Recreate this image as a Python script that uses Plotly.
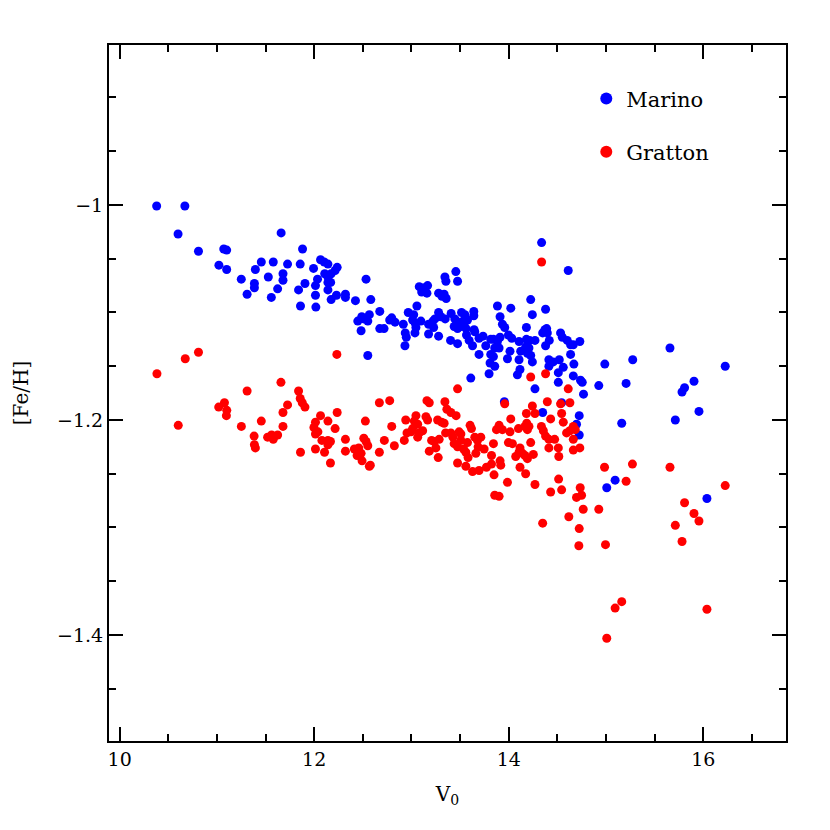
import plotly.graph_objects as go

# Marino sample (blue)
marino_v = [10.38, 10.67, 10.60, 10.81, 11.07, 11.10, 11.66, 11.88, 11.02, 11.10,
            11.25, 11.31, 11.385, 11.385, 11.395, 11.456, 11.579, 11.528, 11.559, 11.624,
            11.679, 11.679, 11.726, 11.856, 11.839, 11.859, 11.905, 11.993, 12.013, 12.034,
            12.013, 12.017, 12.065, 12.103, 12.141, 12.108, 12.141, 12.141, 12.141, 12.174,
            12.236, 12.215, 12.174, 12.169, 12.229, 12.321, 12.321, 12.533, 12.424, 12.582,
            12.448, 12.489, 12.510, 12.482, 12.567, 12.551, 12.674, 12.674, 12.718, 12.776,
            12.797, 12.831, 12.551, 12.916, 12.936, 12.947, 12.933, 12.967, 13.023, 13.012,
            13.039, 13.046, 13.036, 13.056, 13.080, 13.105, 13.131, 13.159, 13.166, 13.097,
            13.176, 13.228, 13.241, 13.221, 13.176, 13.279, 13.279, 13.313, 13.336, 13.357,
            13.344, 13.354, 13.456, 13.474, 13.279, 13.303, 13.347, 13.408, 13.446, 13.464,
            13.515, 13.549, 13.531, 13.576, 13.641, 13.641, 13.439, 13.474, 13.508, 13.562,
            13.542, 13.402, 13.474, 13.566, 13.593, 13.628, 13.644, 13.651, 13.695, 13.736,
            13.695, 13.764, 13.815, 13.843, 13.884, 13.901, 13.856, 13.815, 13.843, 13.808,
            13.856, 13.798, 13.884, 13.610, 13.911, 14.338, 14.612, 14.226, 14.021, 14.379,
            14.243, 13.935, 13.959, 14.182, 13.911, 13.997, 14.031, 14.106, 14.182, 14.215,
            14.270, 14.349, 14.372, 14.390, 14.397, 14.013, 14.123, 14.174, 14.208, 14.192,
            14.226, 13.987, 14.089, 14.116, 14.379, 14.417, 14.533, 14.551, 14.602, 14.636,
            14.664, 14.731, 14.243, 14.413, 14.458, 14.520, 14.561, 14.413, 14.636, 14.670,
            14.510, 14.664, 14.510, 14.738, 14.756, 14.769, 14.988, 15.275, 14.926, 15.207,
            14.270, 14.106, 13.955, 14.349, 14.544, 14.725, 14.697, 14.725, 15.658, 16.226,
            15.905, 15.808, 15.782, 15.956, 15.713, 15.162, 15.094, 15.008, 16.038]
marino_feh = [-1.001, -1.001, -1.027, -1.043, -1.041, -1.042, -1.026, -1.041, -1.056, -1.060,
              -1.069, -1.083, -1.073, -1.077, -1.060, -1.053, -1.053, -1.067, -1.086, -1.078,
              -1.064, -1.070, -1.055, -1.055, -1.079, -1.094, -1.073, -1.059, -1.075, -1.069,
              -1.084, -1.095, -1.051, -1.053, -1.055, -1.064, -1.067, -1.072, -1.079, -1.088,
              -1.058, -1.061, -1.064, -1.072, -1.084, -1.083, -1.086, -1.069, -1.089, -1.088,
              -1.108, -1.104, -1.106, -1.117, -1.102, -1.108, -1.099, -1.115, -1.115, -1.107,
              -1.105, -1.109, -1.140, -1.111, -1.119, -1.123, -1.131, -1.100, -1.102, -1.107,
              -1.110, -1.114, -1.119, -1.094, -1.076, -1.081, -1.077, -1.082, -1.075, -1.108,
              -1.111, -1.114, -1.106, -1.108, -1.120, -1.122, -1.082, -1.085, -1.083, -1.087,
              -1.067, -1.071, -1.062, -1.071, -1.100, -1.104, -1.106, -1.101, -1.106, -1.108,
              -1.100, -1.102, -1.108, -1.107, -1.099, -1.103, -1.113, -1.115, -1.113, -1.115,
              -1.110, -1.126, -1.129, -1.121, -1.126, -1.131, -1.116, -1.118, -1.124, -1.122,
              -1.139, -1.131, -1.125, -1.125, -1.127, -1.133, -1.133, -1.139, -1.141, -1.147,
              -1.150, -1.157, -1.094, -1.161, -1.104, -1.035, -1.061, -1.088, -1.096, -1.097,
              -1.102, -1.111, -1.114, -1.114, -1.123, -1.121, -1.124, -1.127, -1.125, -1.126,
              -1.126, -1.119, -1.116, -1.115, -1.119, -1.136, -1.136, -1.132, -1.133, -1.138,
              -1.140, -1.143, -1.158, -1.153, -1.131, -1.126, -1.119, -1.123, -1.126, -1.130,
              -1.130, -1.127, -1.146, -1.144, -1.146, -1.144, -1.151, -1.150, -1.139, -1.148,
              -1.156, -1.159, -1.165, -1.163, -1.165, -1.176, -1.148, -1.144, -1.168, -1.166,
              -1.171, -1.144, -1.183, -1.193, -1.184, -1.196, -1.204, -1.214, -1.133, -1.150,
              -1.164, -1.170, -1.174, -1.192, -1.200, -1.203, -1.256, -1.263, -1.273]

# Gratton sample (red)
gratton_v = [10.383, 10.674, 10.810, 10.602, 11.310, 11.018, 11.077, 11.101, 11.097, 11.251,
             11.382, 11.385, 11.395, 11.456, 11.521, 11.562, 11.579, 11.624, 11.679, 11.679,
             11.726, 11.658, 11.839, 11.856, 11.877, 11.905, 11.859, 12.013, 11.997, 12.013,
             12.038, 12.065, 12.141, 12.079, 12.141, 12.141, 12.013, 12.106, 12.167, 12.233,
             12.236, 12.215, 12.167, 12.321, 12.321, 12.526, 12.413, 12.458, 12.441, 12.482,
             12.492, 12.510, 12.533, 12.551, 12.577, 12.567, 12.670, 12.776, 12.670, 12.721,
             12.797, 12.824, 12.926, 12.941, 12.954, 12.995, 13.046, 13.029, 13.064, 13.012,
             13.080, 13.064, 13.115, 13.166, 13.149, 13.159, 13.183, 13.207, 13.234, 13.285,
             13.251, 13.183, 13.275, 13.269, 13.310, 13.336, 13.344, 13.364, 13.405, 13.459,
             13.474, 13.351, 13.405, 13.426, 13.439, 13.490, 13.508, 13.508, 13.474, 13.536,
             13.576, 13.559, 13.582, 13.603, 13.617, 13.651, 13.679, 13.685, 13.747, 13.662,
             13.474, 13.559, 13.628, 13.695, 13.771, 13.823, 13.823, 13.843, 13.874, 13.901,
             13.849, 13.856, 13.901, 13.918, 14.226, 14.379, 14.612, 13.959, 14.243, 14.397,
             14.533, 14.629, 14.021, 14.182, 14.270, 14.544, 13.935, 14.013, 14.100, 14.167,
             14.185, 14.208, 14.192, 14.336, 14.356, 14.379, 14.413, 14.472, 14.431, 14.561,
             14.595, 14.629, 14.664, 14.664, 14.684, 13.713, 13.997, 14.038, 14.226, 14.116,
             14.106, 14.072, 14.141, 14.192, 14.253, 14.167, 14.413, 14.510, 14.515, 14.664,
             14.731, 13.911, 14.116, 14.174, 13.987, 14.270, 14.513, 14.431, 14.544, 14.735,
             14.749, 14.697, 14.766, 14.926, 14.618, 14.349, 14.725, 14.721, 14.995, 14.985,
             15.272, 15.658, 15.207, 16.226, 15.808, 15.905, 15.956, 15.713, 15.782, 15.162,
             15.094, 16.038, 15.008, 14.338]
gratton_feh = [-1.157, -1.143, -1.137, -1.205, -1.173, -1.188, -1.184, -1.191, -1.196, -1.206,
               -1.215, -1.223, -1.226, -1.201, -1.216, -1.214, -1.218, -1.214, -1.193, -1.206,
               -1.186, -1.165, -1.173, -1.180, -1.184, -1.188, -1.230, -1.202, -1.207, -1.213,
               -1.211, -1.196, -1.201, -1.219, -1.219, -1.223, -1.227, -1.230, -1.240, -1.139,
               -1.193, -1.208, -1.220, -1.218, -1.229, -1.201, -1.227, -1.226, -1.233, -1.231,
               -1.238, -1.217, -1.220, -1.224, -1.242, -1.243, -1.184, -1.182, -1.230, -1.219,
               -1.206, -1.224, -1.219, -1.200, -1.212, -1.211, -1.196, -1.201, -1.204, -1.208,
               -1.212, -1.216, -1.210, -1.200, -1.197, -1.182, -1.184, -1.219, -1.220, -1.218,
               -1.226, -1.229, -1.235, -1.200, -1.202, -1.203, -1.183, -1.190, -1.193, -1.196,
               -1.171, -1.212, -1.212, -1.216, -1.222, -1.211, -1.213, -1.219, -1.225, -1.227,
               -1.221, -1.230, -1.235, -1.205, -1.208, -1.216, -1.219, -1.225, -1.227, -1.231,
               -1.240, -1.243, -1.248, -1.247, -1.244, -1.241, -1.233, -1.222, -1.209, -1.205,
               -1.251, -1.270, -1.271, -1.242, -1.160, -1.157, -1.171, -1.185, -1.187, -1.183,
               -1.185, -1.184, -1.199, -1.194, -1.194, -1.194, -1.209, -1.211, -1.208, -1.206,
               -1.203, -1.206, -1.209, -1.206, -1.210, -1.215, -1.218, -1.218, -1.199, -1.202,
               -1.212, -1.210, -1.206, -1.218, -1.209, -1.216, -1.221, -1.222, -1.221, -1.226,
               -1.230, -1.234, -1.231, -1.236, -1.232, -1.233, -1.226, -1.226, -1.234, -1.228,
               -1.226, -1.238, -1.244, -1.250, -1.258, -1.260, -1.255, -1.267, -1.265, -1.263,
               -1.270, -1.272, -1.283, -1.283, -1.290, -1.296, -1.301, -1.317, -1.316, -1.244,
               -1.241, -1.244, -1.257, -1.261, -1.277, -1.287, -1.294, -1.298, -1.313, -1.369,
               -1.375, -1.376, -1.403, -1.053]

x_tickvals = [10, 12, 14, 16]
x_ticktext = ["10", "12", "14", "16"]
y_tickvals = [-1.0, -1.2, -1.4]
y_ticktext = ["\u22121", "\u22121.2", "\u22121.4"]

FONT = "DejaVu Serif"

fig = go.Figure()
fig.add_trace(go.Scatter(x=marino_v, y=marino_feh, mode="markers", name="Marino",
                         legendgroup="a",
                         marker=dict(color="#0000ff", size=9, line=dict(width=0))))
fig.add_trace(go.Scatter(x=gratton_v, y=gratton_feh, mode="markers", name="Gratton",
                         legendgroup="b",
                         marker=dict(color="#ff0000", size=9, line=dict(width=0))))

axis_common = dict(
    showgrid=False, zeroline=False, showline=True, linecolor="black", linewidth=2,
    mirror="allticks", ticks="inside", ticklen=14, tickwidth=1.5, tickcolor="black",
    tickfont=dict(family=FONT, size=19, color="black"),
)

fig.update_xaxes(
    **axis_common,
    range=[9.890, 16.851],
    tickmode="array", tickvals=x_tickvals, ticktext=x_ticktext,
    minor=dict(ticks="inside", ticklen=7, tickwidth=1.5, tickcolor="black",
               tickmode="linear", tick0=10, dtick=0.5, showgrid=False),
    title=dict(text="V<sub>0</sub>", font=dict(family=FONT, size=20, color="black"),
               standoff=18),
)
fig.update_yaxes(
    **axis_common,
    range=[-1.4986, -0.8512],
    tickmode="array", tickvals=y_tickvals, ticktext=y_ticktext,
    minor=dict(ticks="inside", ticklen=7, tickwidth=1.5, tickcolor="black",
               tickmode="linear", tick0=-1.0, dtick=0.05, showgrid=False),
    title=dict(text="[Fe/H]", font=dict(family=FONT, size=20, color="black"),
               standoff=23),
)

fig.update_layout(
    width=830, height=830,
    margin=dict(l=99, r=52, t=37, b=97),
    paper_bgcolor="white", plot_bgcolor="white",
    showlegend=True,
    legend=dict(x=0.705, y=0.952, xanchor="left", yanchor="top",
                font=dict(family=FONT, size=21, color="black"),
                bgcolor="rgba(0,0,0,0)", traceorder="grouped", tracegroupgap=23,
                itemsizing="constant"),
)

fig.write_html("out.html")
